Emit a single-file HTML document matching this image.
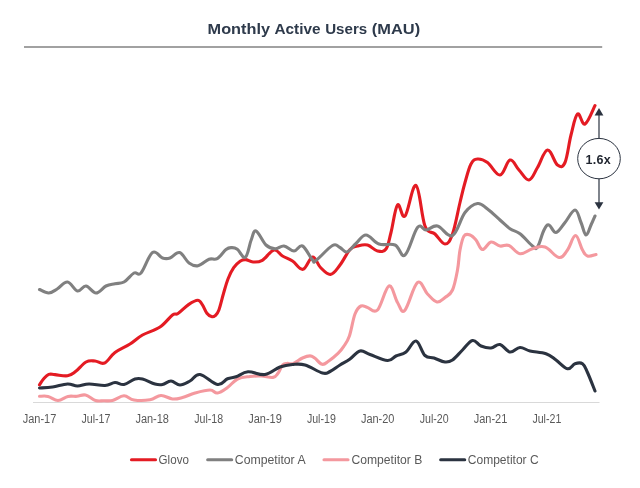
<!DOCTYPE html>
<html><head><meta charset="utf-8"><title>Monthly Active Users (MAU)</title>
<style>
html,body{margin:0;padding:0;background:#fff;}
body{width:640px;height:488px;overflow:hidden;font-family:"Liberation Sans",sans-serif;}
svg{display:block}
.t{font:bold 15px "Liberation Sans",sans-serif;fill:#2e3a4b;}
.ax text{font:12px "Liberation Sans",sans-serif;fill:#595959}
.lg text{font:12px "Liberation Sans",sans-serif;fill:#595959}
.s{fill:none;stroke-width:3.1;stroke-linecap:round;stroke-linejoin:round}
</style></head><body>
<svg width="640" height="488" viewBox="0 0 640 488">
<rect width="640" height="488" fill="#fff"/>
<text class="t" y="33.8"><tspan x="207.6" textLength="62.4" lengthAdjust="spacingAndGlyphs">Monthly</tspan> <tspan x="274.5" textLength="46" lengthAdjust="spacingAndGlyphs">Active</tspan> <tspan x="325.2" textLength="42" lengthAdjust="spacingAndGlyphs">Users</tspan> <tspan x="371.8" textLength="48.3" lengthAdjust="spacingAndGlyphs">(MAU)</tspan></text>
<line x1="24" y1="46.95" x2="602.2" y2="46.95" stroke="#828282" stroke-width="1.4"/>
<line x1="33" y1="402.5" x2="599.5" y2="402.5" stroke="#d9d9d9" stroke-width="1"/>
<path class="s" stroke="#e41b23" d="M39.50,384.80C40.23,383.74 41.80,380.91 43.50,379.00C45.20,377.09 46.64,375.21 48.75,374.40C50.86,373.59 51.56,374.34 55.00,374.60C58.44,374.86 63.74,376.35 67.50,375.80C71.26,375.25 72.11,374.13 75.50,371.60C78.89,369.07 82.42,363.94 86.00,362.00C89.58,360.06 91.61,360.82 95.00,361.00C98.39,361.18 100.83,364.56 104.50,363.00C108.17,361.44 110.33,355.98 115.00,352.50C119.67,349.02 124.96,347.21 130.00,344.00C135.04,340.79 137.00,338.12 142.50,335.00C148.00,331.88 154.50,330.67 160.00,327.00C165.50,323.33 169.20,317.48 172.50,315.00C175.80,312.52 175.07,315.41 178.00,313.50C180.93,311.59 184.89,307.04 188.50,304.60C192.11,302.16 195.17,300.20 197.70,300.20C200.23,300.20 200.61,302.20 202.30,304.60C203.99,307.00 205.21,311.10 206.90,313.30C208.59,315.50 209.98,316.18 211.50,316.60C213.02,317.02 213.84,316.81 215.20,315.60C216.56,314.39 217.38,314.05 218.90,310.00C220.42,305.95 221.81,299.24 223.50,293.50C225.19,287.76 226.23,283.43 228.10,278.70C229.97,273.97 231.50,270.91 233.70,267.70C235.90,264.49 237.92,262.69 240.10,261.20C242.28,259.71 243.23,259.45 245.60,259.60C247.97,259.75 249.94,261.87 253.00,262.00C256.06,262.13 258.45,262.50 262.30,260.30C266.15,258.10 270.30,250.79 274.00,250.00C277.70,249.21 279.11,253.98 282.50,256.00C285.89,258.02 288.74,258.56 292.50,261.00C296.26,263.44 299.31,270.03 303.00,269.30C306.69,268.57 309.39,257.33 312.60,257.00C315.81,256.67 317.22,264.31 320.50,267.50C323.78,270.69 326.93,274.86 330.50,274.40C334.07,273.94 336.43,269.56 340.00,265.00C343.57,260.44 346.79,252.98 350.00,249.50C353.21,246.02 354.29,246.82 357.50,246.00C360.71,245.18 363.83,244.08 367.50,245.00C371.17,245.92 374.11,250.27 377.50,251.00C380.89,251.73 383.52,252.39 386.00,249.00C388.48,245.61 388.89,240.57 391.00,232.50C393.11,224.43 394.93,208.03 397.50,205.00C400.07,201.97 401.61,219.57 405.00,216.00C408.39,212.43 412.33,183.67 416.00,185.50C419.67,187.33 421.52,217.11 425.00,226.00C428.48,234.89 431.33,230.70 435.00,234.00C438.67,237.30 441.79,244.00 445.00,244.00C448.21,244.00 449.75,241.61 452.50,234.00C455.25,226.39 457.71,211.94 460.00,202.50C462.29,193.06 462.98,189.56 465.00,182.50C467.02,175.44 468.71,168.31 471.00,164.00C473.29,159.69 474.48,159.28 477.50,159.00C480.52,158.72 483.38,159.57 487.50,162.50C491.62,165.43 495.88,175.46 500.00,175.00C504.12,174.54 506.52,160.92 510.00,160.00C513.48,159.08 515.52,166.33 519.00,170.00C522.48,173.67 525.61,180.46 529.00,180.00C532.39,179.54 534.11,173.00 537.50,167.50C540.89,162.00 543.83,150.46 547.50,150.00C551.17,149.54 554.29,162.71 557.50,165.00C560.71,167.29 562.52,168.00 565.00,162.50C567.48,157.00 568.71,143.89 571.00,135.00C573.29,126.11 574.93,116.02 577.50,114.00C580.07,111.98 581.79,125.56 585.00,124.00C588.21,122.44 593.17,108.89 595.00,105.50"/>
<path class="s" stroke="#808080" d="M39.50,289.50C41.20,290.14 45.45,293.14 48.75,293.00C52.05,292.86 54.06,290.77 57.50,288.75C60.94,286.73 63.83,281.59 67.50,282.00C71.17,282.41 74.11,290.27 77.50,291.00C80.89,291.73 82.61,285.63 86.00,286.00C89.39,286.37 92.33,293.00 96.00,293.00C99.67,293.00 102.52,287.70 106.00,286.00C109.48,284.30 111.70,284.48 115.00,283.75C118.30,283.02 120.52,283.97 124.00,282.00C127.48,280.03 130.88,274.65 134.00,273.00C137.12,271.35 137.61,276.76 141.00,273.00C144.39,269.24 148.56,255.25 152.50,252.50C156.44,249.75 159.29,256.99 162.50,258.00C165.71,259.01 166.87,259.01 170.00,258.00C173.13,256.99 176.12,251.58 179.60,252.50C183.08,253.42 185.63,260.58 189.00,263.00C192.37,265.42 194.33,266.40 198.00,265.70C201.67,265.00 205.48,260.50 209.00,259.20C212.52,257.90 214.08,260.38 217.20,258.60C220.32,256.82 223.38,251.52 226.00,249.50C228.62,247.48 229.43,247.66 231.50,247.60C233.57,247.54 234.75,247.42 237.30,249.20C239.85,250.98 242.85,258.99 245.40,257.30C247.95,255.61 249.26,244.82 251.20,240.00C253.14,235.18 253.29,230.08 256.00,231.00C258.71,231.92 262.52,241.75 266.00,245.00C269.48,248.25 271.70,248.57 275.00,248.75C278.30,248.93 280.52,245.59 284.00,246.00C287.48,246.41 290.61,251.00 294.00,251.00C297.39,251.00 299.11,244.35 302.50,246.00C305.89,247.65 310.02,257.34 312.50,260.00C314.98,262.66 312.33,263.16 316.00,260.50C319.67,257.84 328.10,247.88 332.50,245.50C336.90,243.12 337.34,246.31 340.00,247.50C342.66,248.69 344.07,252.73 347.00,252.00C349.93,251.27 352.52,246.62 356.00,243.50C359.48,240.38 361.78,234.91 366.00,235.00C370.22,235.09 373.68,242.17 379.00,244.00C384.32,245.83 390.23,242.98 395.00,245.00C399.77,247.02 400.88,258.21 405.00,255.00C409.12,251.79 413.65,232.08 417.50,227.50C421.35,222.92 422.33,230.28 426.00,230.00C429.67,229.72 432.64,224.99 437.50,226.00C442.36,227.01 447.46,237.97 452.50,235.50C457.54,233.03 460.42,218.37 465.00,212.50C469.58,206.63 473.38,204.14 477.50,203.50C481.62,202.86 483.38,205.97 487.50,209.00C491.62,212.03 495.88,216.38 500.00,220.00C504.12,223.62 506.33,226.23 510.00,228.75C513.67,231.27 515.88,230.59 520.00,233.75C524.12,236.91 529.29,243.57 532.50,246.00C535.71,248.43 535.39,249.93 537.50,247.00C539.61,244.07 541.89,234.03 544.00,230.00C546.11,225.97 546.80,224.54 549.00,225.00C551.20,225.46 553.07,232.96 556.00,232.50C558.93,232.04 561.52,226.62 565.00,222.50C568.48,218.38 572.07,210.00 575.00,210.00C577.93,210.00 578.98,217.92 581.00,222.50C583.02,227.08 584.17,234.54 586.00,235.00C587.83,235.46 589.35,228.48 591.00,225.00C592.65,221.52 594.27,217.65 595.00,216.00"/>
<path class="s" stroke="#f4989e" d="M39.50,396.30C41.06,396.32 44.61,395.63 48.00,396.40C51.39,397.17 54.33,400.50 58.00,400.50C61.67,400.50 64.52,397.17 68.00,396.40C71.48,395.63 73.79,396.56 77.00,396.30C80.21,396.04 82.11,394.23 85.50,395.00C88.89,395.77 92.11,399.45 95.50,400.50C98.89,401.55 100.88,400.70 104.00,400.70C107.12,400.70 108.83,401.40 112.50,400.50C116.17,399.60 120.06,395.89 124.00,395.80C127.94,395.71 129.23,399.27 134.00,400.00C138.77,400.73 145.05,400.62 150.00,399.80C154.95,398.98 156.88,395.65 161.00,395.50C165.12,395.35 168.56,398.63 172.50,399.00C176.44,399.37 178.38,398.60 182.50,397.50C186.62,396.40 189.96,394.38 195.00,393.00C200.04,391.62 205.88,390.00 210.00,390.00C214.12,390.00 214.29,393.46 217.50,393.00C220.71,392.54 223.83,390.07 227.50,387.50C231.17,384.93 233.38,381.02 237.50,379.00C241.62,376.98 245.65,377.05 250.00,376.50C254.35,375.95 257.03,375.83 261.25,376.00C265.47,376.17 269.93,377.89 273.00,377.40C276.07,376.90 276.20,375.63 278.00,373.30C279.80,370.97 281.06,366.51 282.80,364.70C284.54,362.88 285.63,363.60 287.50,363.40C289.37,363.20 290.25,364.59 293.00,363.60C295.75,362.61 299.38,359.41 302.50,358.00C305.62,356.59 307.76,355.90 310.00,355.90C312.24,355.90 312.46,356.46 314.70,358.00C316.94,359.54 319.62,363.75 322.20,364.30C324.78,364.85 325.85,363.00 328.75,361.00C331.65,359.00 335.25,356.09 338.00,353.40C340.75,350.70 341.66,349.49 343.75,346.30C345.84,343.11 347.34,341.92 349.40,336.00C351.46,330.08 352.87,319.50 355.00,314.00C357.13,308.50 358.71,307.19 361.00,306.00C363.29,304.81 364.48,306.77 367.50,307.50C370.52,308.23 373.56,313.94 377.50,310.00C381.44,306.06 385.33,287.38 389.00,286.00C392.67,284.62 394.60,298.05 397.50,302.50C400.40,306.95 401.13,313.97 404.80,310.30C408.47,306.63 413.34,285.49 417.50,282.50C421.66,279.51 423.93,290.43 427.50,294.00C431.07,297.57 433.79,301.36 437.00,302.00C440.21,302.64 442.16,299.70 445.00,297.50C447.84,295.30 450.21,295.04 452.50,290.00C454.79,284.96 456.12,277.33 457.50,270.00C458.88,262.67 458.81,256.23 460.00,250.00C461.19,243.77 462.17,238.75 464.00,236.00C465.83,233.25 467.80,234.27 470.00,235.00C472.20,235.73 473.71,237.34 476.00,240.00C478.29,242.66 479.75,249.13 482.50,249.50C485.25,249.87 487.79,242.64 491.00,242.00C494.21,241.36 496.70,245.36 500.00,246.00C503.30,246.64 505.33,244.08 509.00,245.50C512.67,246.92 515.69,253.15 520.00,253.75C524.31,254.35 527.92,249.99 532.50,248.75C537.08,247.51 540.14,245.40 545.00,247.00C549.86,248.60 554.88,256.95 559.00,257.50C563.12,258.05 564.48,254.03 567.50,250.00C570.52,245.97 572.75,235.50 575.50,235.50C578.25,235.50 580.30,246.24 582.50,250.00C584.70,253.76 585.02,255.18 587.50,256.00C589.98,256.82 594.44,254.78 596.00,254.50"/>
<path class="s" stroke="#2b3340" d="M39.50,388.00C41.88,387.82 47.37,387.73 52.50,387.00C57.63,386.27 62.92,384.18 67.50,384.00C72.08,383.82 73.56,386.00 77.50,386.00C81.44,386.00 83.96,384.09 89.00,384.00C94.04,383.91 100.23,385.77 105.00,385.50C109.77,385.23 111.52,382.68 115.00,382.50C118.48,382.32 120.33,385.14 124.00,384.50C127.67,383.86 131.61,380.01 135.00,379.00C138.39,377.99 138.83,378.08 142.50,379.00C146.17,379.92 151.33,382.99 155.00,384.00C158.67,385.01 159.57,385.05 162.50,384.50C165.43,383.95 167.79,380.91 171.00,381.00C174.21,381.09 176.52,385.00 180.00,385.00C183.48,385.00 186.33,382.93 190.00,381.00C193.67,379.07 194.96,373.86 200.00,374.50C205.04,375.14 212.46,383.72 217.50,384.50C222.54,385.28 224.11,380.16 227.50,378.75C230.89,377.34 232.24,378.07 236.00,376.80C239.76,375.53 242.68,372.22 248.00,371.80C253.32,371.38 259.13,375.38 265.00,374.50C270.87,373.62 274.96,368.83 280.00,367.00C285.04,365.17 287.92,364.87 292.50,364.50C297.08,364.13 299.50,363.44 305.00,365.00C310.50,366.56 317.92,371.81 322.50,373.00C327.08,374.19 326.79,372.97 330.00,371.50C333.21,370.03 336.33,367.29 340.00,365.00C343.67,362.71 346.33,361.57 350.00,359.00C353.67,356.43 356.33,351.82 360.00,351.00C363.67,350.18 364.96,352.76 370.00,354.50C375.04,356.24 382.73,360.23 387.50,360.50C392.27,360.77 392.61,357.56 396.00,356.00C399.39,354.44 402.33,354.75 406.00,352.00C409.67,349.25 412.52,340.36 416.00,341.00C419.48,341.64 421.70,352.38 425.00,355.50C428.30,358.62 430.33,356.81 434.00,358.00C437.67,359.19 441.61,361.63 445.00,362.00C448.39,362.37 449.29,362.20 452.50,360.00C455.71,357.80 458.83,353.57 462.50,350.00C466.17,346.43 469.11,341.23 472.50,340.50C475.89,339.77 477.61,344.62 481.00,346.00C484.39,347.38 487.52,348.27 491.00,348.00C494.48,347.73 496.52,343.77 500.00,344.50C503.48,345.23 506.33,351.45 510.00,352.00C513.67,352.55 516.33,347.68 520.00,347.50C523.67,347.32 525.23,349.85 530.00,351.00C534.77,352.15 541.23,352.10 546.00,353.75C550.77,355.40 552.06,357.25 556.00,360.00C559.94,362.75 564.02,368.06 567.50,368.75C570.98,369.44 572.25,364.67 575.00,363.75C577.75,362.83 580.21,362.15 582.50,363.75C584.79,365.35 585.21,367.50 587.50,372.50C589.79,377.50 593.62,387.61 595.00,391.00"/>
<g class="ax"><text x="22.7" y="423.3" textLength="33.6" lengthAdjust="spacingAndGlyphs">Jan-17</text><text x="81.5" y="423.3" textLength="28.9" lengthAdjust="spacingAndGlyphs">Jul-17</text><text x="135.4" y="423.3" textLength="33.6" lengthAdjust="spacingAndGlyphs">Jan-18</text><text x="194.2" y="423.3" textLength="28.9" lengthAdjust="spacingAndGlyphs">Jul-18</text><text x="248.2" y="423.3" textLength="33.6" lengthAdjust="spacingAndGlyphs">Jan-19</text><text x="306.9" y="423.3" textLength="28.9" lengthAdjust="spacingAndGlyphs">Jul-19</text><text x="360.9" y="423.3" textLength="33.6" lengthAdjust="spacingAndGlyphs">Jan-20</text><text x="419.7" y="423.3" textLength="28.9" lengthAdjust="spacingAndGlyphs">Jul-20</text><text x="473.7" y="423.3" textLength="33.6" lengthAdjust="spacingAndGlyphs">Jan-21</text><text x="532.4" y="423.3" textLength="28.9" lengthAdjust="spacingAndGlyphs">Jul-21</text></g>
<g stroke="#2b3340" stroke-width="1.2" fill="#2b3340">
<line x1="599" y1="113" x2="599" y2="138.5"/>
<line x1="599" y1="178.5" x2="599" y2="204"/>
<path d="M599,108 L603.4,115.4 L594.6,115.4Z" stroke="none"/>
<path d="M599,209.5 L603.4,202.2 L594.6,202.2Z" stroke="none"/>
<ellipse cx="599" cy="158.6" rx="21.3" ry="20.2" fill="#fff" stroke-width="1"/>
</g>
<text x="598.2" y="163.5" text-anchor="middle" style="font:bold 12.5px 'Liberation Sans',sans-serif;fill:#1f242e;letter-spacing:0.25px">1.6x</text>
<g class="lg">
<line class="s" x1="131.5" y1="459.8" x2="155.5" y2="459.8" stroke="#e41b23"/>
<text x="158.6" y="463.8" textLength="30.3" lengthAdjust="spacingAndGlyphs">Glovo</text>
<line class="s" x1="207.7" y1="459.8" x2="231.7" y2="459.8" stroke="#808080"/>
<text x="234.8" y="463.8" textLength="70.8" lengthAdjust="spacingAndGlyphs">Competitor A</text>
<line class="s" x1="324" y1="459.8" x2="348" y2="459.8" stroke="#f4989e"/>
<text x="351.5" y="463.8" textLength="70.8" lengthAdjust="spacingAndGlyphs">Competitor B</text>
<line class="s" x1="440.7" y1="459.8" x2="464.7" y2="459.8" stroke="#2b3340"/>
<text x="467.8" y="463.8" textLength="70.8" lengthAdjust="spacingAndGlyphs">Competitor C</text>
</g>
</svg>
</body></html>
